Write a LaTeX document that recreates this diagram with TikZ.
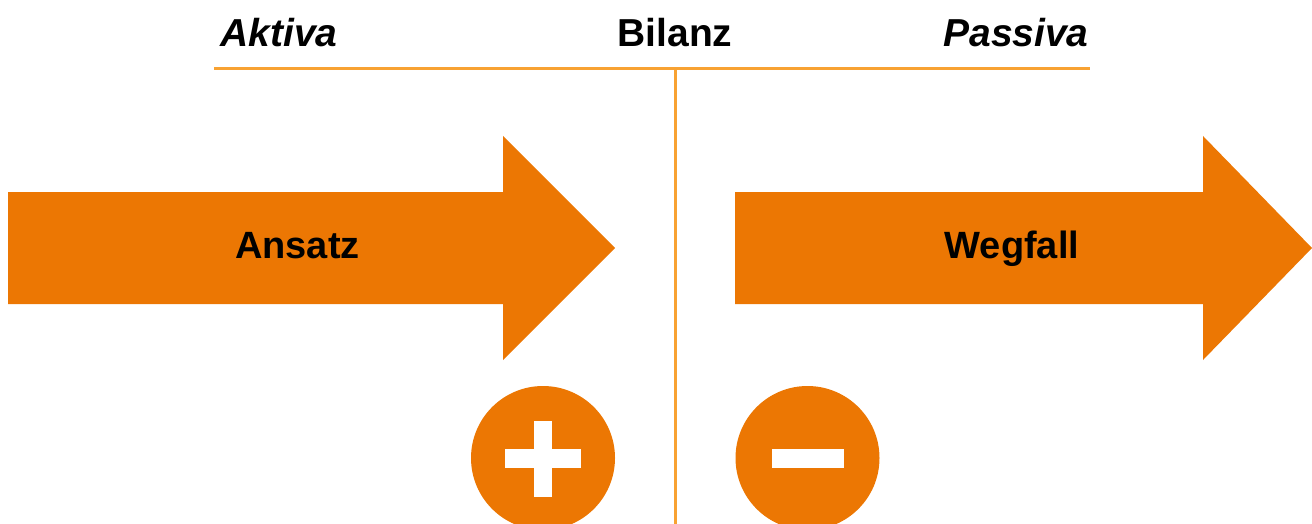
\documentclass[tikz,border=0pt]{standalone}
\usepackage{fontspec}
\setmainfont{Liberation Sans}
\definecolor{pfeilorange}{HTML}{EC7703}
\definecolor{linienorange}{HTML}{F8A232}
\tikzset{
  kopf/.style={inner sep=0pt,font=\fontsize{19.5}{23}\selectfont\bfseries},
  pfeiltext/.style={inner sep=0pt,anchor=base,font=\fontsize{19}{23}\selectfont\bfseries},
  linie/.style={linienorange,line width=1.5pt},
  balken/.style={fill=white}
}

\begin{document}
\begin{tikzpicture}[x=0.5pt,y=-0.5pt]
  \useasboundingbox (0,0) rectangle (1312,524);
  \clip (0,0) rectangle (1312,524);

  %header line and divider
  \draw[linie] (214,69) -- (1090,69);
  \draw[linie] (675,69) -- (675,524);

  %headings
  \node[kopf,anchor=base west] (aktiva) at (220,46.5) {\itshape Aktiva};
  \node[kopf,anchor=base] (bilanz) at (675,46.5) {Bilanz};
  \node[kopf,anchor=base east] (passiva) at (1089,46.5) {\itshape Passiva};

  %arrows
  \fill[pfeilorange] (8,192) -- (503,192) -- (503,136) -- (615,248)
      -- (503,360) -- (503,304) -- (8,304) -- cycle;
  \fill[pfeilorange] (735,192) -- (1203,192) -- (1203,136) -- (1312,248)
      -- (1203,360) -- (1203,304) -- (735,304) -- cycle;
  \node[pfeiltext] (ansatz) at (297.5,258) {Ansatz};
  \node[pfeiltext] (wegfall) at (1012,258) {Wegfall};

  %plus and minus
  \fill[pfeilorange] (543,458) circle (72);
  \fill[balken] (505,449) rectangle (581,468);
  \fill[balken] (534,421) rectangle (552,497);
  \fill[pfeilorange] (807.5,458) circle (72);
  \fill[balken] (772,449) rectangle (844,468);
\end{tikzpicture}
\end{document}
